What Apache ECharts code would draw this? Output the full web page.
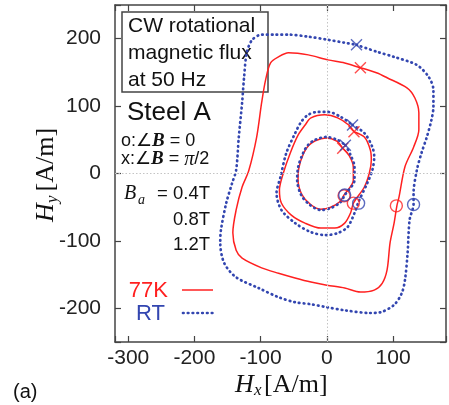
<!DOCTYPE html>
<html>
<head>
<meta charset="utf-8">
<script src="https://cdn.jsdelivr.net/npm/echarts@6.0.0/dist/echarts.min.js"></script>
<style>
html,body{margin:0;padding:0;background:#fff}
#chart{width:449px;height:405px}
</style>
</head>
<body>
<div id="chart"></div>
<script>
'use strict'
// H loci [Hx, Hy] in A/m
var loop12_77K = [[50.7,156.8],[76,149],[91,142],[121,127],[133,112],[139,90],[139,65],[131,39],[118,10],[109,-35],[106,-47],
	[101.5,-74],[95.5,-103],[91,-143],[83.6,-163],[71.6,-173],[50.7,-176],[27,-170],[0,-165.7],[-24,-161],[-48,-155],
	[-73,-148],[-98.5,-140],[-128,-125.6],[-137,-114],[-142,-88],[-137,-54],[-128,-20],[-118,4],[-106,54],[-98.5,105],
	[-92.5,139],[-85,164],[-73,173],[-58,179],[-28,176],[1.5,168.6],[27,164]]
var loop12_RT = [[44.8,190.9],[76,180.5],[101.5,173],[136,161],[154,143],[161,124],[161,99],[158,79.5],[151,54],[143,30.5],
	[136,5],[131,-29],[131,-45],[125,-69],[122,-118],[118,-158],[113,-178],[101.5,-195],[80.6,-206],[65.7,-207],[27,-203],
	[0,-198.4],[-24,-194],[-48,-191],[-73,-183.5],[-103,-170],[-137,-154],[-155,-133],[-161,-103],[-160,-84],[-152,-44],
	[-143,-14],[-137,5],[-133,54],[-128,105],[-125,143],[-121,179],[-113,198],[-98.5,206],[-77.6,206],[-58,206],[-28,203],
	[1.5,198.4],[27,194]]
var loop08_77K = [[41,62],[56.7,54],[65.7,35],[67.2,20],[64.2,0.7],[56.7,-20],[40.3,-43.8],[35.8,-58.7],[27,-73.6],[12,-81],
	[-9,-81],[-33,-73.6],[-53.7,-61.7],[-68.7,-43.8],[-71.6,-24.5],[-65.7,0.7],[-55.2,30.5],[-43.3,57.2],[-32.8,72],
	[-24,82.5],[-3,87],[16.4,82.5],[33,72]]
var loop08_RT = [[38.8,72],[56.7,60],[68.7,39.4],[71.6,24.5],[68.7,5],[61.2,-14],[47.8,-42.3],[41.8,-58.7],[31.3,-79.5],
	[16.4,-88.4],[-1.5,-91.4],[-24,-87],[-47.8,-73.6],[-68.7,-54],[-76,-29],[-70,-5],[-61.2,30.5],[-47.8,60],[-38.8,76.5],
	[-28.4,87],[-13.4,91.4],[1.5,91.4],[21,84]]
var loop04_77K = [[24,37.5],[34,26],[40,9],[40,-10],[25.5,-32.5],[19.5,-42],[5,-50.5],[-9,-53],[-24.5,-46],[-37.5,-31.5],
	[-43.5,-9.5],[-42,9.5],[-35,30],[-27.5,41.5],[-17.5,48.5],[-1.5,52.5],[15,48]]
var loop04_RT = [[28,42],[35.8,27.5],[41.8,9.7],[41.8,-9.7],[27,-32],[21,-42.3],[6,-51.3],[-9,-54.2],[-25.4,-46.8],
	[-38.8,-32],[-44.8,-9.7],[-43.3,9.7],[-35.8,30.5],[-28.4,42.3],[-18,49.8],[-1.5,54.2],[16.4,49.8]]
// o: angle B = 0, x: angle B = pi/2
var oMark_77K = [[26,-33],[40,-44],[105,-48]]
var oMark_RT = [[27,-32],[48,-44],[131,-46]]
var xMark_77K = [[24,37.5],[41,62],[50.7,156.8]]
var xMark_RT = [[28,42],[38.8,72],[44.8,190.9]]
var xTickLabels = [-300, -200, -100, 0, 100]
var yTickLabels = [-200, -100, 0, 100, 200]

var RED = '#ff2020', BLUE = '#3346b0', AXIS = '#444'
var SANS = '"Liberation Sans", Arial, sans-serif'
var SERIF = '"Liberation Serif", "Times New Roman", serif'
var XPATH = 'path://M0,0L10,10M10,0L0,10'

function loop(pts, dotted){
	return {
		type: 'line', data: pts.concat([pts[0]]), smooth: 0.3, symbol: 'none', silent: true, z: 3,
		lineStyle: dotted ? {color: BLUE, width: 2.7, type: [0.6, 4.2], cap: 'round'} : {color: RED, width: 1.5}
	}
}
function marks(pts, symbol, size, color){
	return {
		type: 'scatter', data: pts, symbol: symbol, symbolSize: size, silent: true, z: 4,
		itemStyle: {color: 'transparent', borderColor: color, borderWidth: 1.4}
	}
}
function txt(x, y, text, size, extra){
	var st = {x: x, y: y, text: text, fontSize: size, fontFamily: SANS, fill: '#111',
		align: 'left', verticalAlign: 'middle', textAlign: 'left', textVerticalAlign: 'middle'}
	for (var k in extra) st[k] = extra[k]
	if (extra && extra.align) st.textAlign = extra.align
	return {type: 'text', silent: true, style: st}
}
function axis(type, pos, min, max, labels, show){
	var a = {
		type: 'value', position: pos, min: min, max: max, splitNumber: 5,
		axisLine: {show: true, onZero: false, lineStyle: {color: AXIS, width: 1.5}},
		axisTick: {show: true, inside: true, length: 6, lineStyle: {color: AXIS, width: 1.2}},
		splitLine: {show: false},
		axisLabel: {show: show, fontSize: 21, fontFamily: SANS, color: '#222', margin: type == 'x' ? 6 : 14,
			formatter: function(v){ return labels.indexOf(v) >= 0 ? String(v) : '' }}
	}
	return a
}

var myChart = echarts.init(document.getElementById('chart'))
var option = {
	animation: false,
	grid: {left: 115, top: 5, width: 333, height: 337},
	xAxis: [axis('x', 'bottom', -320, 180, xTickLabels, true), axis('x', 'top', -320, 180, xTickLabels, false)],
	yAxis: [axis('y', 'left', -250, 250, yTickLabels, true), axis('y', 'right', -250, 250, yTickLabels, false)],
	series: [
		{
			type: 'line', data: [], z: 1,
			markLine: {silent: true, symbol: ['none', 'none'], label: {show: false},
				lineStyle: {color: '#c4c4c4', width: 1, type: [1.5, 2]},
				data: [{xAxis: 0}, {yAxis: 0}]}
		},
		loop(loop12_77K, false), loop(loop08_77K, false), loop(loop04_77K, false),
		loop(loop12_RT, true), loop(loop08_RT, true), loop(loop04_RT, true),
		marks(oMark_77K, 'circle', 12, RED), marks(xMark_77K, XPATH, 11, RED),
		marks(oMark_RT, 'circle', 12, BLUE), marks(xMark_RT, XPATH, 11, BLUE)
	],
	graphic: [
		{type: 'rect', silent: true, shape: {x: 122, y: 12, width: 146, height: 80},
			style: {fill: '#fff', stroke: AXIS, lineWidth: 1.5}},
		txt(128, 26.5, 'CW rotational', 21),
		txt(128, 53.5, 'magnetic flux', 21),
		txt(128, 80, 'at 50 Hz', 21),
		txt(127, 113, 'Steel A', 26),
		{type: 'text', silent: true, style: {x: 121, y: 141.5, fontSize: 18, fontFamily: SANS, fill: '#111',
			align: 'left', verticalAlign: 'middle', textAlign: 'left', textVerticalAlign: 'middle',
			text: '{s|o:∠}{b|B}{s| = 0}',
			rich: {s: {fontSize: 18, fontFamily: SANS}, b: {fontSize: 19, fontFamily: SERIF, fontStyle: 'italic', fontWeight: 'bold'}}}},
		{type: 'text', silent: true, style: {x: 121, y: 159.5, fontSize: 18, fontFamily: SANS, fill: '#111',
			align: 'left', verticalAlign: 'middle', textAlign: 'left', textVerticalAlign: 'middle',
			text: '{s|x:∠}{b|B}{s| = }{i|π}{s|/2}',
			rich: {s: {fontSize: 18, fontFamily: SANS}, b: {fontSize: 19, fontFamily: SERIF, fontStyle: 'italic', fontWeight: 'bold'},
				i: {fontSize: 20, fontFamily: SERIF, fontStyle: 'italic'}}}},
		txt(124, 194, 'B', 20, {fontFamily: SERIF, fontStyle: 'italic'}),
		txt(138, 200, 'a', 14, {fontFamily: SERIF, fontStyle: 'italic'}),
		txt(210, 194, '= 0.4T', 18.5, {align: 'right'}),
		txt(210, 219.5, '0.8T', 18.5, {align: 'right'}),
		txt(210, 244.5, '1.2T', 18.5, {align: 'right'}),
		txt(168, 291, '77K', 22, {align: 'right', fill: RED}),
		txt(165, 313.5, 'RT', 22, {align: 'right', fill: BLUE}),
		{type: 'line', silent: true, shape: {x1: 182, y1: 290, x2: 213, y2: 290}, style: {stroke: RED, lineWidth: 1.5}},
		{type: 'line', silent: true, shape: {x1: 183, y1: 313, x2: 213, y2: 313},
			style: {stroke: BLUE, lineWidth: 2.7, lineDash: [0.6, 4.2], lineCap: 'round'}},
		txt(235, 385, 'H', 26, {fontFamily: SERIF, fontStyle: 'italic'}),
		txt(254, 391, 'x', 17, {fontFamily: SERIF, fontStyle: 'italic'}),
		txt(264, 385, '[A/m]', 26, {fontFamily: SERIF}),
		{type: 'group', x: 46.5, y: 174.5, rotation: Math.PI / 2, children: [
			txt(-47.5, 0, 'H', 26, {fontFamily: SERIF, fontStyle: 'italic'}),
			txt(-28.5, 6, 'y', 17, {fontFamily: SERIF, fontStyle: 'italic'}),
			txt(-17, 0, '[A/m]', 26, {fontFamily: SERIF})
		]},
		txt(13, 392, '(a)', 20)
	]
}
myChart.setOption(option)
</script>
</body>
</html>
